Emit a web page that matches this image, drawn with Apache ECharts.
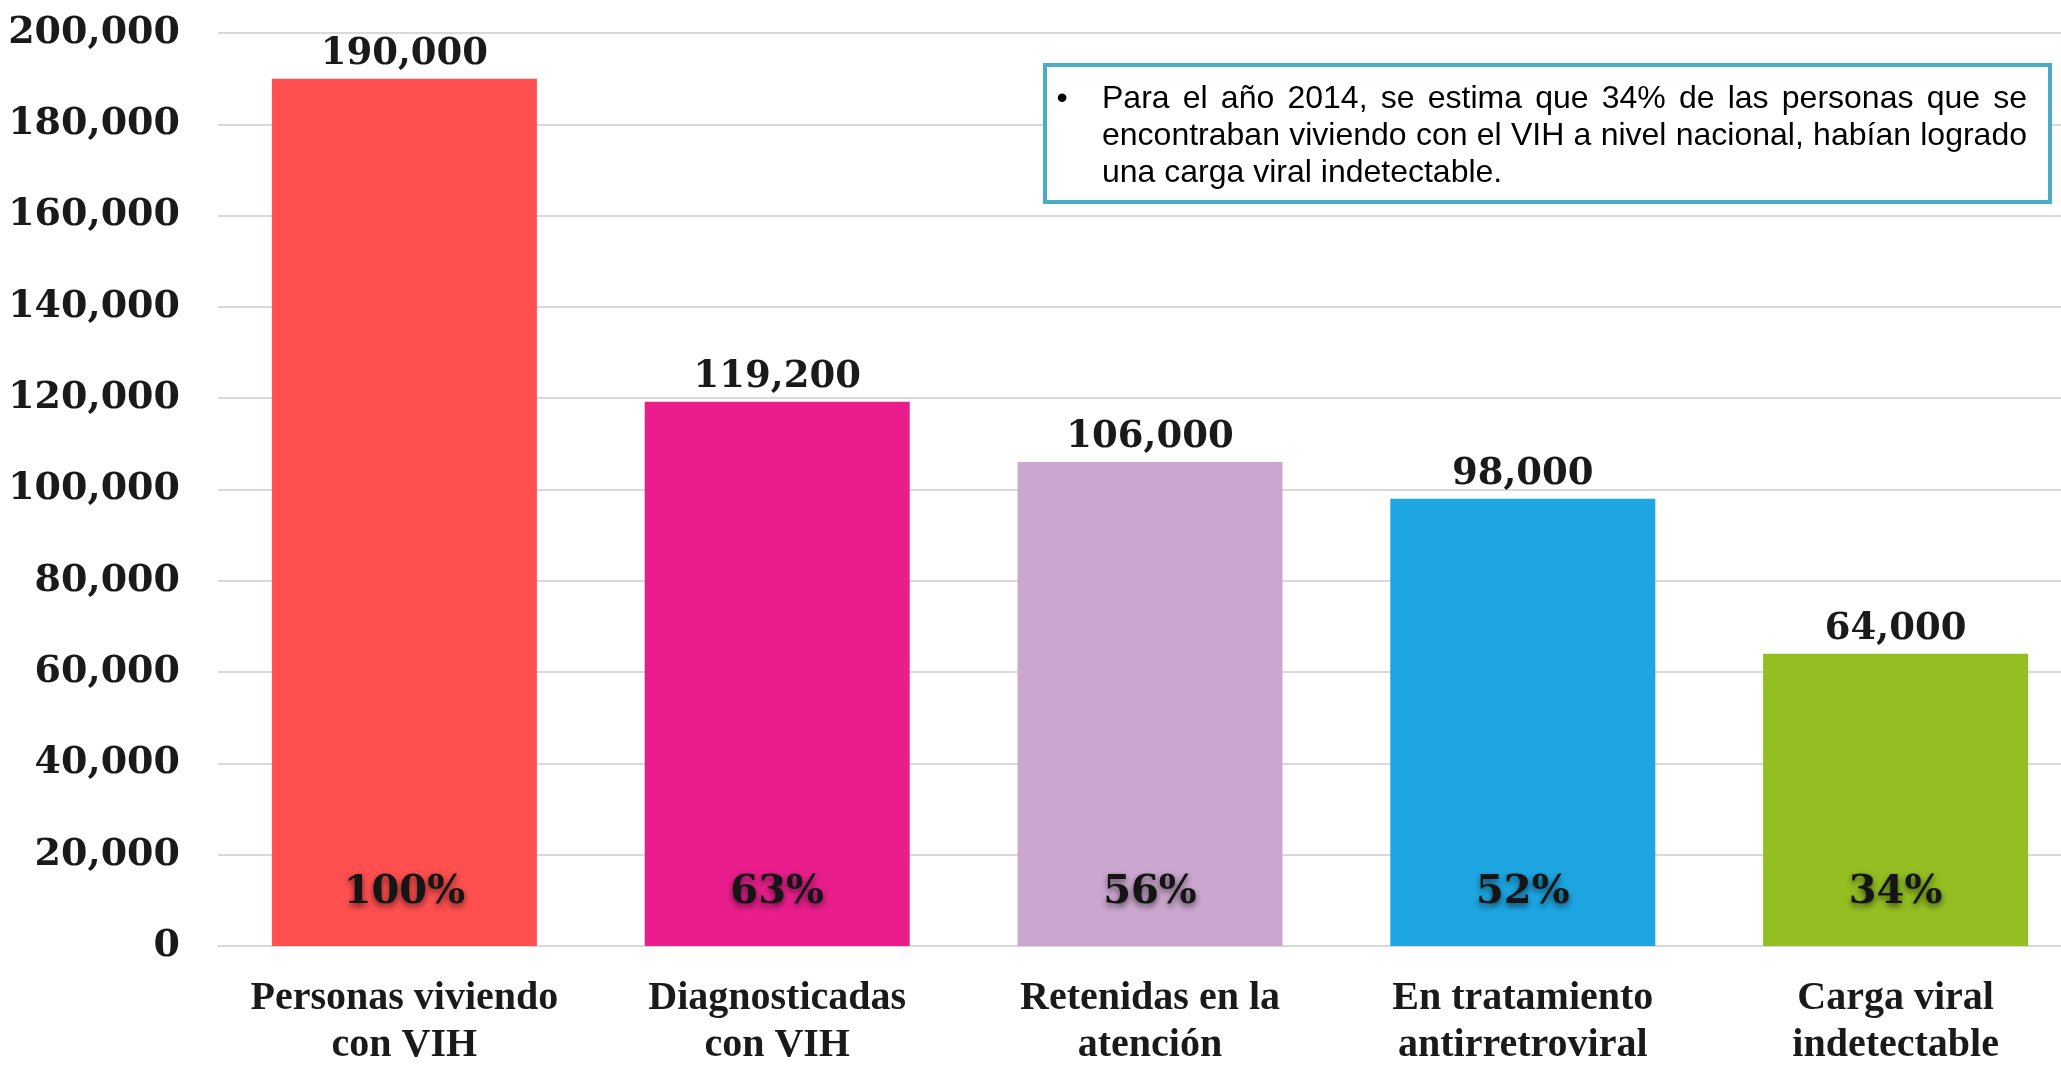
<!DOCTYPE html>
<html>
<head>
<meta charset="utf-8">
<script src="https://cdn.jsdelivr.net/npm/echarts@6/dist/echarts.min.js"></script>
<style>
  html, body { margin: 0; padding: 0; background: #fff; }
  #chart { width: 2061px; height: 1065px; }
</style>
</head>
<body>
<div id="chart"></div>
<script>
// datos de la cascada de atención VIH (2014)
const categories = [
  'Personas viviendo\ncon VIH',
  'Diagnosticadas\ncon VIH',
  'Retenidas en la\natención',
  'En tratamiento\nantirretroviral',
  'Carga viral\nindetectable'
]
const values = [190000, 119200, 106000, 98000, 64000]
const percents = ['100%', '63%', '56%', '52%', '34%']
const barColors = ['#FF4F4F', '#E91E8C', '#CBA7CF', '#1DA6E2', '#93BF22']
const yTicks = { min: 0, max: 200000, interval: 20000 }

const noteLines = [
  'Para el año 2014, se estima que 34% de las personas que se',
  'encontraban viviendo con el VIH a nivel nacional, habían logrado',
  'una carga viral indetectable.'
]

const serif = '"DejaVu Serif", "Liberation Serif", serif'
const labelSerif = '"Liberation Serif", "DejaVu Serif", serif'
const fmt = v => Number(v).toLocaleString('en-US')

const chart = echarts.init(document.getElementById('chart'))

// texto justificado del recuadro: una palabra por elemento
function buildNote () {
  const font = '32px "Liberation Sans", Arial, sans-serif'
  const ctx = document.createElement('canvas').getContext('2d')
  ctx.font = font
  const left = 1102
  const width = 925
  const baseY = [99, 136, 173]
  const els = [{
    type: 'rect',
    shape: { x: 1045, y: 65, width: 1005, height: 137 },
    style: { fill: '#fff', stroke: '#4BACC6', lineWidth: 4 },
    z: 10
  }, {
    type: 'text',
    x: 1062, y: baseY[0],
    style: { text: '•', font: font, fill: '#000', align: 'center', verticalAlign: 'middle' },
    z: 11
  }]
  noteLines.forEach((line, i) => {
    const last = i === noteLines.length - 1
    if (last) {
      els.push({
        type: 'text', x: left, y: baseY[i],
        style: { text: line, font: font, fill: '#000', verticalAlign: 'middle' },
        z: 11
      })
      return
    }
    const words = line.split(' ')
    const ws = words.map(w => ctx.measureText(w).width)
    const total = ws.reduce((a, b) => a + b, 0)
    const gap = (width - total) / (words.length - 1)
    let x = left
    words.forEach((w, k) => {
      els.push({
        type: 'text', x: x, y: baseY[i],
        style: { text: w, font: font, fill: '#000', verticalAlign: 'middle' },
        z: 11
      })
      x += ws[k] + gap
    })
  })
  return els
}

const option = {
  backgroundColor: '#fff',
  animation: false,
  grid: {
    left: 218,
    right: -21,
    top: 33,
    bottom: 119,
    outerBoundsMode: 'none'
  },
  xAxis: {
    type: 'category',
    data: categories,
    axisTick: { show: false },
    axisLine: { lineStyle: { color: '#d9d9d9', width: 2 } },
    axisLabel: {
      interval: 0,
      margin: 29,
      color: '#1a1a1a',
      fontFamily: labelSerif,
      fontWeight: 'bold',
      fontSize: 40,
      lineHeight: 47
    }
  },
  yAxis: {
    type: 'value',
    min: yTicks.min,
    max: yTicks.max,
    interval: yTicks.interval,
    axisLine: { show: false },
    axisTick: { show: false },
    splitLine: { lineStyle: { color: '#d9d9d9', width: 2 } },
    axisLabel: {
      margin: 38,
      color: '#1a1a1a',
      fontFamily: serif,
      fontWeight: 'bold',
      fontSize: 38,
      formatter: fmt
    }
  },
  series: [{
    type: 'bar',
    barWidth: 265,
    data: values.map((v, i) => ({ value: v, itemStyle: { color: barColors[i] } })),
    label: {
      show: true,
      position: 'top',
      distance: 6,
      color: '#1a1a1a',
      fontFamily: serif,
      fontWeight: 'bold',
      fontSize: 37,
      formatter: p => fmt(p.value)
    },
    z: 2
  }, {
    // etiquetas de porcentaje dentro de cada barra
    type: 'bar',
    barWidth: 265,
    barGap: '-100%',
    data: values,
    itemStyle: { color: 'rgba(0,0,0,0)' },
    label: {
      show: true,
      position: 'insideBottom',
      distance: 33,
      color: '#151515',
      fontFamily: serif,
      fontWeight: 'bold',
      fontSize: 40,
      textShadowColor: 'rgba(0,0,0,0.6)',
      textShadowBlur: 6,
      textShadowOffsetY: 3,
      formatter: p => percents[p.dataIndex]
    },
    silent: true,
    z: 3
  }],
  graphic: buildNote()
}

chart.setOption(option)
</script>
</body>
</html>
